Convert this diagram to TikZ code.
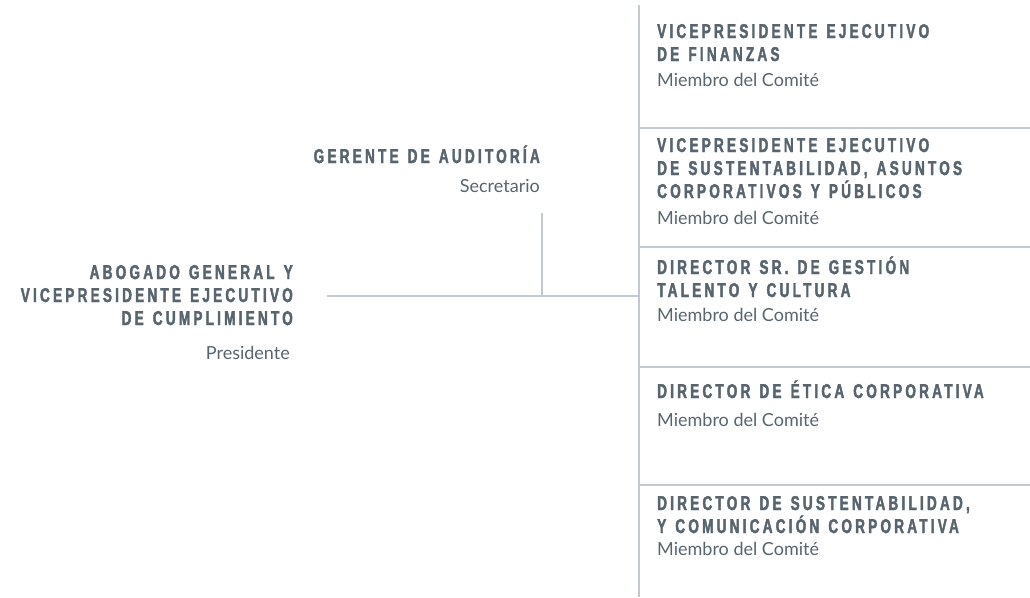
\documentclass[tikz,border=0pt]{standalone}
\usepackage{fontspec}
\setmainfont{Lato}
\newfontfamily\headfont{Liberation Sans Bold}[FakeStretch=0.68, FakeBold=2, LetterSpace=16, WordSpace=1.3]
\usetikzlibrary{positioning}

\definecolor{slate}{HTML}{58656E}
\definecolor{rulegray}{HTML}{C3CACF}

\begin{document}
\begin{tikzpicture}[
    x=1pt, y=-1pt,
    every node/.style={inner sep=0pt, text=slate},
    head/.style={font=\headfont\fontsize{20}{23}\selectfont},
    role/.style={font=\fontsize{18}{22}\selectfont},
    link/.style={draw=rulegray, line width=1.2pt}
]
\useasboundingbox (0,0) rectangle (1030,597);

% Chair and secretary (base = last line)
\node[head, align=right, anchor=base east] (abogado) at (293,325)
    {ABOGADO GENERAL Y\\VICEPRESIDENTE EJECUTIVO\\DE CUMPLIMIENTO};
\node[role, anchor=base east] (presidente) at (290,359) {Presidente};
\node[head, anchor=base east] (auditoria) at (540,163) {GERENTE DE AUDITORÍA};
\node[role, anchor=base east] (secretario) at (540,192) {Secretario};

% Committee members
\node[head, align=left, anchor=base west] (finanzas) at (657,61)
    {VICEPRESIDENTE EJECUTIVO\\DE FINANZAS};
\node[role, anchor=base west] (finanzasR) at (657,86) {Miembro del Comité};
\node[head, align=left, anchor=base west] (asuntos) at (657,198)
    {VICEPRESIDENTE EJECUTIVO\\DE SUSTENTABILIDAD, ASUNTOS\\CORPORATIVOS Y PÚBLICOS};
\node[role, anchor=base west] (asuntosR) at (657,224) {Miembro del Comité};
\node[head, align=left, anchor=base west] (talento) at (657,297)
    {DIRECTOR SR. DE GESTIÓN\\TALENTO Y CULTURA};
\node[role, anchor=base west] (talentoR) at (657,321) {Miembro del Comité};
\node[head, align=left, anchor=base west] (etica) at (657,398)
    {DIRECTOR DE ÉTICA CORPORATIVA};
\node[role, anchor=base west] (eticaR) at (657,426) {Miembro del Comité};
\node[head, align=left, anchor=base west] (comunicacion) at (657,533)
    {DIRECTOR DE SUSTENTABILIDAD,\\Y COMUNICACIÓN CORPORATIVA};
\node[role, anchor=base west] (comunicacionR) at (657,555) {Miembro del Comité};

% Spine and junctions
\coordinate (spineTop) at (639,5);
\coordinate (spineBot) at (639,597);
\coordinate (join) at (639,296);
\coordinate (chairEnd) at (327,296);
\coordinate (auditTop) at (542,213);
\coordinate (auditFoot) at (542,296);

\draw[link] (spineTop) -- (spineBot);
\draw[link] (chairEnd) -- (join);
\draw[link] (auditTop) -- (auditFoot);

% Separators between members
\foreach \y/\nm in {128/sepA, 247/sepB, 367/sepC, 485/sepD} {
    \coordinate (\nm) at (639,\y);
    \draw[link] (\nm) -- ++(391,0);
}

\end{tikzpicture}
\end{document}
